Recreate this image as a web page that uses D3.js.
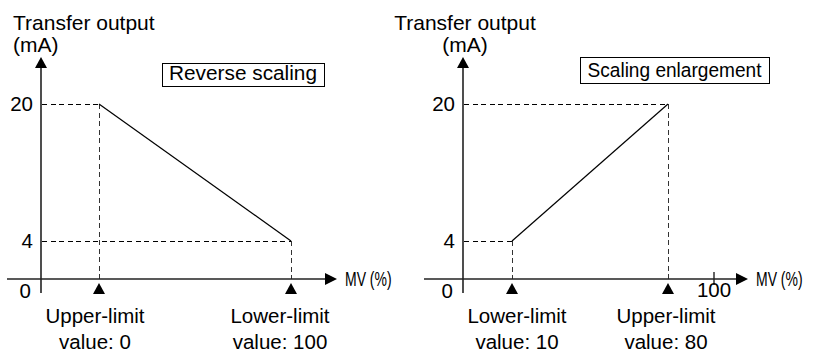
<!DOCTYPE html>
<html><head><meta charset="utf-8">
<script src="https://cdn.jsdelivr.net/npm/d3@7"></script>
<style>
html,body{margin:0;padding:0;background:#fff;}
svg{display:block;font-family:"Liberation Sans",Arial,Helvetica,sans-serif;}
</style></head>
<body>
<svg id="chart" width="816" height="351"></svg>
<script>
// ---- data ----
const yTickValues = [20, 4];
const yOriginLabel = "0";
const yAxisTitle = ["Transfer output", "(mA)"];
const xAxisTitle = "MV (%)";

const reverseTitle = "Reverse scaling";
const reverseMV = [0, 100];
const reverseOut = [20, 4];
const reverseLabels = [["Upper-limit", "value: 0"], ["Lower-limit", "value: 100"]];

const enlargeTitle = "Scaling enlargement";
const enlargeMV = [10, 80];
const enlargeOut = [4, 20];
const enlargeLabels = [["Lower-limit", "value: 10"], ["Upper-limit", "value: 80"]];
const enlargeXTicks = [100];

// ---- drawing ----
const svg = d3.select("#chart");
const y = d3.scaleLinear().domain([0, 4, 20]).range([279, 241, 104]);
const FS = 20.5;

const panels = [
  { axisX: 41, xStart: 7, xTip: 337, title: reverseTitle, mv: reverseMV, out: reverseOut,
    labels: reverseLabels, labelDx: [-4, -11], ticks: [],
    x: d3.scaleLinear().domain([0, 100]).range([99, 291]),
    box: [162, 63, 162, 23], boxText: [243, 80], boxTextLen: 148, titleAnchor: "start", titleX: 13 },
  { axisX: 463, xStart: 424, xTip: 748, title: enlargeTitle, mv: enlargeMV, out: enlargeOut,
    labels: enlargeLabels, labelDx: [5, -2], ticks: enlargeXTicks,
    x: d3.scaleLinear().domain([10, 80, 100]).range([512, 668, 714]),
    box: [580, 57, 189, 26], boxText: [674.5, 77], boxTextLen: 174, titleAnchor: "middle", titleX: 465 }
];

panels.forEach(p => {
  const g = svg.append("g");
  const axisColor = "#222";
  const x0 = y(0);

  // y-axis title
  yAxisTitle.forEach((t, i) => {
    g.append("text").attr("x", p.titleX).attr("y", 30 + i * 22)
      .attr("text-anchor", p.titleAnchor).attr("font-size", 21).attr("fill", "#000").text(t);
  });

  // dashed guides
  const pts = p.mv.map((m, i) => [p.x(m), y(p.out[i])]);
  pts.forEach(([px, py]) => {
    g.append("line").attr("x1", p.axisX + 1).attr("x2", px).attr("y1", py + 0.5).attr("y2", py + 0.5)
      .attr("stroke", "#000").attr("stroke-width", 1).attr("stroke-dasharray", "5,3.5")
      .attr("shape-rendering", "crispEdges");
    g.append("line").attr("x1", px + 0.5).attr("x2", px + 0.5).attr("y1", py).attr("y2", x0)
      .attr("stroke", "#333").attr("stroke-width", 1).attr("stroke-dasharray", "5,3.5")
      .attr("shape-rendering", "crispEdges");
  });

  // line
  g.append("path").attr("d", d3.line()(pts)).attr("fill", "none")
    .attr("stroke", "#000").attr("stroke-width", 1.2);

  // y axis
  g.append("line").attr("x1", p.axisX).attr("x2", p.axisX).attr("y1", 293).attr("y2", 66)
    .attr("stroke", axisColor).attr("stroke-width", 1.6);
  g.append("path").attr("d", `M${p.axisX},57 L${p.axisX - 6},68 L${p.axisX + 6},68 Z`).attr("fill", "#000");

  // x axis
  g.append("line").attr("x1", p.xStart).attr("x2", p.xTip - 10).attr("y1", x0).attr("y2", x0)
    .attr("stroke", axisColor).attr("stroke-width", 1.6);
  g.append("path").attr("d", `M${p.xTip},${x0} L${p.xTip - 12},${x0 - 6} L${p.xTip - 12},${x0 + 6} Z`).attr("fill", "#000");
  g.append("g").attr("transform", `translate(${p.xTip + 8},${x0 + 7}) scale(0.7,1)`)
    .append("text").attr("x", 0).attr("y", 0).attr("font-size", 20).text(xAxisTitle);

  // x ticks
  p.ticks.forEach(t => {
    g.append("line").attr("x1", p.x(t)).attr("x2", p.x(t)).attr("y1", x0 - 7).attr("y2", x0 + 6)
      .attr("stroke", axisColor).attr("stroke-width", 1.4);
    g.append("text").attr("x", p.x(t)).attr("y", x0 + 18).attr("text-anchor", "middle")
      .attr("font-size", FS).text(t);
  });

  // y tick labels
  yTickValues.forEach(v => {
    g.append("text").attr("x", p.axisX - 8).attr("y", y(v) + 7).attr("text-anchor", "end")
      .attr("font-size", FS).text(v);
  });
  g.append("text").attr("x", p.axisX - 10).attr("y", x0 + 19).attr("text-anchor", "end")
    .attr("font-size", FS).text(yOriginLabel);

  // markers & labels
  p.mv.forEach((m, i) => {
    const mx = p.x(m);
    g.append("path").attr("d", `M${mx},283 L${mx - 6},294 L${mx + 6},294 Z`).attr("fill", "#000");
    p.labels[i].forEach((t, j) => {
      g.append("text").attr("x", mx + p.labelDx[i]).attr("y", 323 + j * 25.5)
        .attr("text-anchor", "middle").attr("font-size", FS).text(t);
    });
  });

  // title box
  g.append("rect").attr("x", p.box[0] + 0.5).attr("y", p.box[1] + 0.5).attr("width", p.box[2]).attr("height", p.box[3])
    .attr("fill", "#fff").attr("stroke", "#000").attr("stroke-width", 1);
  g.append("text").attr("x", p.boxText[0]).attr("y", p.boxText[1]).attr("text-anchor", "middle")
    .attr("font-size", FS).attr("textLength", p.boxTextLen).attr("lengthAdjust", "spacingAndGlyphs").text(p.title);
});
</script>
</body></html>
